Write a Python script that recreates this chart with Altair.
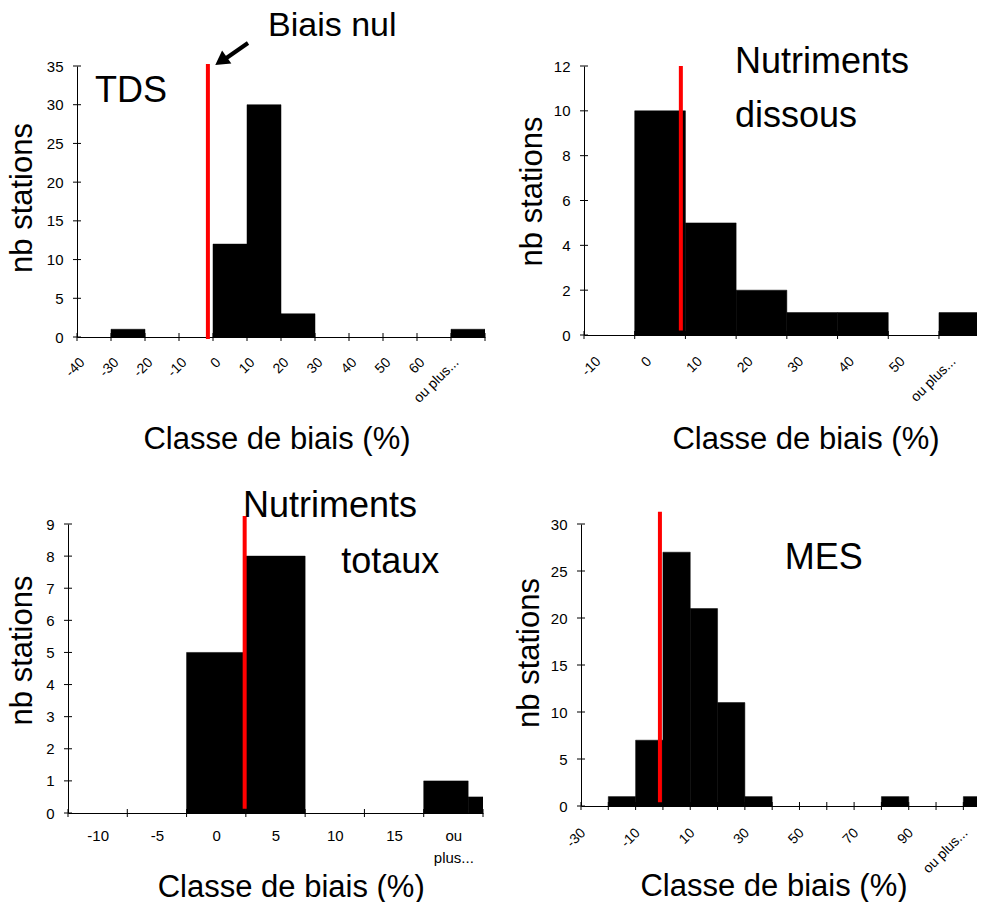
import altair as alt
import pandas as pd

FONT = "Liberation Sans"

# ---------------- data ----------------
tds_labels = ["-40", "-30", "-20", "-10", "0", "10", "20", "30", "40", "50", "60", "ou plus..."]
tds_counts = [0, 1, 0, 0, 12, 30, 3, 0, 0, 0, 0, 1]

dis_labels = ["-10", "0", "10", "20", "30", "40", "50", "ou plus..."]
dis_counts = [0, 10, 5, 2, 1, 1, 0, 1]

tot_labels = ["-10", "-5", "0", "5", "10", "15", "ou plus..."]
tot_counts = [0, 0, 5, 8, 0, 0, 1]
tot_widths = [1, 1, 1, 1, 1, 1, 0.75]
tot_extra = [0, 0, 0, 0, 0, 0, 0.5]

mes_labels = ["-30", "-20", "-10", "0", "10", "20", "30", "40", "50", "60",
              "70", "80", "90", "100", "ou plus..."]
mes_counts = [0, 1, 7, 27, 21, 11, 1, 0, 0, 0, 0, 1, 0, 0, 1]

# zero-bias ("Biais nul") red line: [slot position, bottom, top]
tds_zero = [3.85, -0.25, 35.25]
dis_zero = [1.91, 0.2, 12.0]
tot_zero = [2.98, 0.13, 9.25]
mes_zero = [2.89, 0.4, 31.3]


def label_expr(labels, step=1, split=False):
    arr = "[" + ",".join("'" + l + "'" for l in labels) + "]"
    idx = "floor(datum.value)"
    item = arr + "[" + idx + "]"
    if split:
        item = "split(" + item + ", ' ')"
    cond = idx + " < %d" % len(labels)
    if step > 1:
        cond += " && " + idx + " %% %d == 0" % step
    return "(" + cond + ") ? " + item + " : ''"


def text_layer(txt, x, y, size):
    return alt.Chart(pd.DataFrame({"t": [txt]})).mark_text(
        font=FONT, fontSize=size, align="left", baseline="alphabetic", color="black"
    ).encode(x=alt.value(x), y=alt.value(y), text="t:N")


def spacer(w):
    return alt.Chart(pd.DataFrame({"a": [0]})).mark_point(opacity=0, size=0).encode(
        x=alt.value(0), y=alt.value(0)
    ).properties(width=w, height=1)


def panel(labels, counts, widths, zero, ymax, ystep, w, h, xmax, xaxis_kw, lab_shift,
          ytx, yty, xtx, xty, extra_layers, step=1, split=False, extra=None):
    n = len(labels)
    rows = []
    for i in range(n):
        if counts[i] > 0:
            rows.append({"x0": i, "x1": i + widths[i], "count": counts[i], "base": 0})
        if extra is not None and extra[i] > 0:
            rows.append({"x0": i + widths[i], "x1": i + 1, "count": extra[i], "base": 0})
    bars = pd.DataFrame(rows)
    xscale = alt.Scale(domain=[0, xmax], nice=False, zero=False)
    yscale = alt.Scale(domain=[0, ymax], nice=False, zero=True)
    yvals = list(range(0, ymax + 1, ystep))
    xaxis = alt.Axis(
        title="Classe de biais (%)",
        values=[i + lab_shift for i in range(n) if i + lab_shift <= xmax],
        labelExpr=label_expr(labels, step, split),
        labelFlush=False, labelOverlap=False, ticks=False, tickSize=0,
        titleX=xtx, titleY=xty, titleAlign="center", titleBaseline="alphabetic",
        **xaxis_kw,
    )
    yaxis = alt.Axis(
        title="nb stations",
        values=yvals, ticks=False, tickSize=0,
        titleAngle=270, titleX=ytx, titleY=yty, titleAlign="center",
        titleBaseline="alphabetic", labelPadding=14, labelFontSize=15,
    )
    X = lambda: alt.X("x0:Q", scale=xscale, axis=xaxis)
    Y = lambda: alt.Y("count:Q", scale=yscale, axis=yaxis)
    base = alt.Chart(bars).mark_bar(color="black", stroke="black", strokeWidth=0.5,
                                    clip=True).encode(
        x=X(), x2="x1:Q", y=Y(), y2="base:Q",
    )
    zdf = pd.DataFrame({"x0": [zero[0]], "count": [zero[1]], "count2": [zero[2]]})
    rule = alt.Chart(zdf).mark_rule(color="#FF0000", strokeWidth=4).encode(
        x=X(), y=Y(), y2="count2:Q",
    )
    # tick marks crossing the axis lines (class boundaries / count steps)
    xt = pd.DataFrame({"x0": [i for i in range(n + 1) if i <= xmax]})
    xticks = alt.Chart(xt).mark_rule(color="black", strokeWidth=1).encode(
        x=X(), y=alt.value(h - 4), y2=alt.value(h + 4),
    )
    yt = pd.DataFrame({"count": yvals})
    yticks = alt.Chart(yt).mark_rule(color="black", strokeWidth=1).encode(
        y=Y(), x=alt.value(-4), x2=alt.value(4),
    )
    return alt.layer(base, rule, xticks, yticks, *extra_layers).properties(width=w, height=h)


rot = dict(labelAngle=315, labelAlign="right", labelBaseline="middle", labelFontSize=14)

# arrow pointing at the zero line (TDS panel)
arrow_line = alt.Chart(pd.DataFrame({"a": [0]})).mark_rule(color="black", strokeWidth=4).encode(
    x=alt.value(171), y=alt.value(-23), x2=alt.value(148), y2=alt.value(-7)
)
arrow_head = alt.Chart(pd.DataFrame({"a": [0]})).mark_point(
    shape="triangle-up", filled=True, color="black", size=260, angle=235, opacity=1
).encode(x=alt.value(144), y=alt.value(-5))

p_tds = panel(tds_labels, tds_counts, [1] * 12, tds_zero, 35, 5, 408, 271, 12,
              dict(rot, labelPadding=23), 0.15, -46, 131.5, 199.5, 111,
              [text_layer("Biais nul", 191, -30, 34), text_layer("TDS", 18, 35.7, 36),
               arrow_line, arrow_head])

p_dis = panel(dis_labels, dis_counts, [1] * 8, dis_zero, 12, 2, 393, 269, 7.75,
              dict(rot, labelPadding=24), 0.28, -43, 125, 221.5, 113.5,
              [text_layer("Nutriments", 151, 6.7, 36), text_layer("dissous", 151, 60.7, 36)])

p_tot = panel(tot_labels, tot_counts, tot_widths, tot_zero, 9, 1, 415, 289, 7,
              dict(labelAngle=0, labelAlign="center", labelBaseline="top",
                   labelPadding=15, labelLineHeight=22, labelFontSize=15),
              0.5, -37, 126, 222.7, 83,
              [text_layer("Nutriments", 175, -7.3, 36), text_layer("totaux", 273.3, 49.3, 36)],
              split=True, extra=tot_extra)

p_mes = panel(mes_labels, mes_counts, [1] * 15, mes_zero, 30, 5, 396, 282, 14.5,
              dict(rot, labelPadding=24.5), 0.07, -43, 128.5, 192.5, 89,
              [text_layer("MES", 203.7, 45, 36)], step=2)

# the leading spacers shift the top row 9px right of the bottom row, as in the reference
row1 = alt.hconcat(spacer(10), p_tds, p_dis, spacing=99, bounds="flush")
row2 = alt.hconcat(spacer(2), p_tot, p_mes, spacing=98, bounds="flush")

chart = alt.vconcat(row1, row2, spacing=32).properties(
    padding={"left": -40, "top": 1, "right": 0, "bottom": 0}
).configure_view(stroke=None).configure_axis(
    domainColor="black", labelColor="black", titleColor="black",
    labelFont=FONT, titleFont=FONT, titleFontSize=31, titleFontWeight="normal",
    grid=False, domainWidth=1,
)

chart.save("out.html", embed_options={"renderer": "svg", "actions": False})
